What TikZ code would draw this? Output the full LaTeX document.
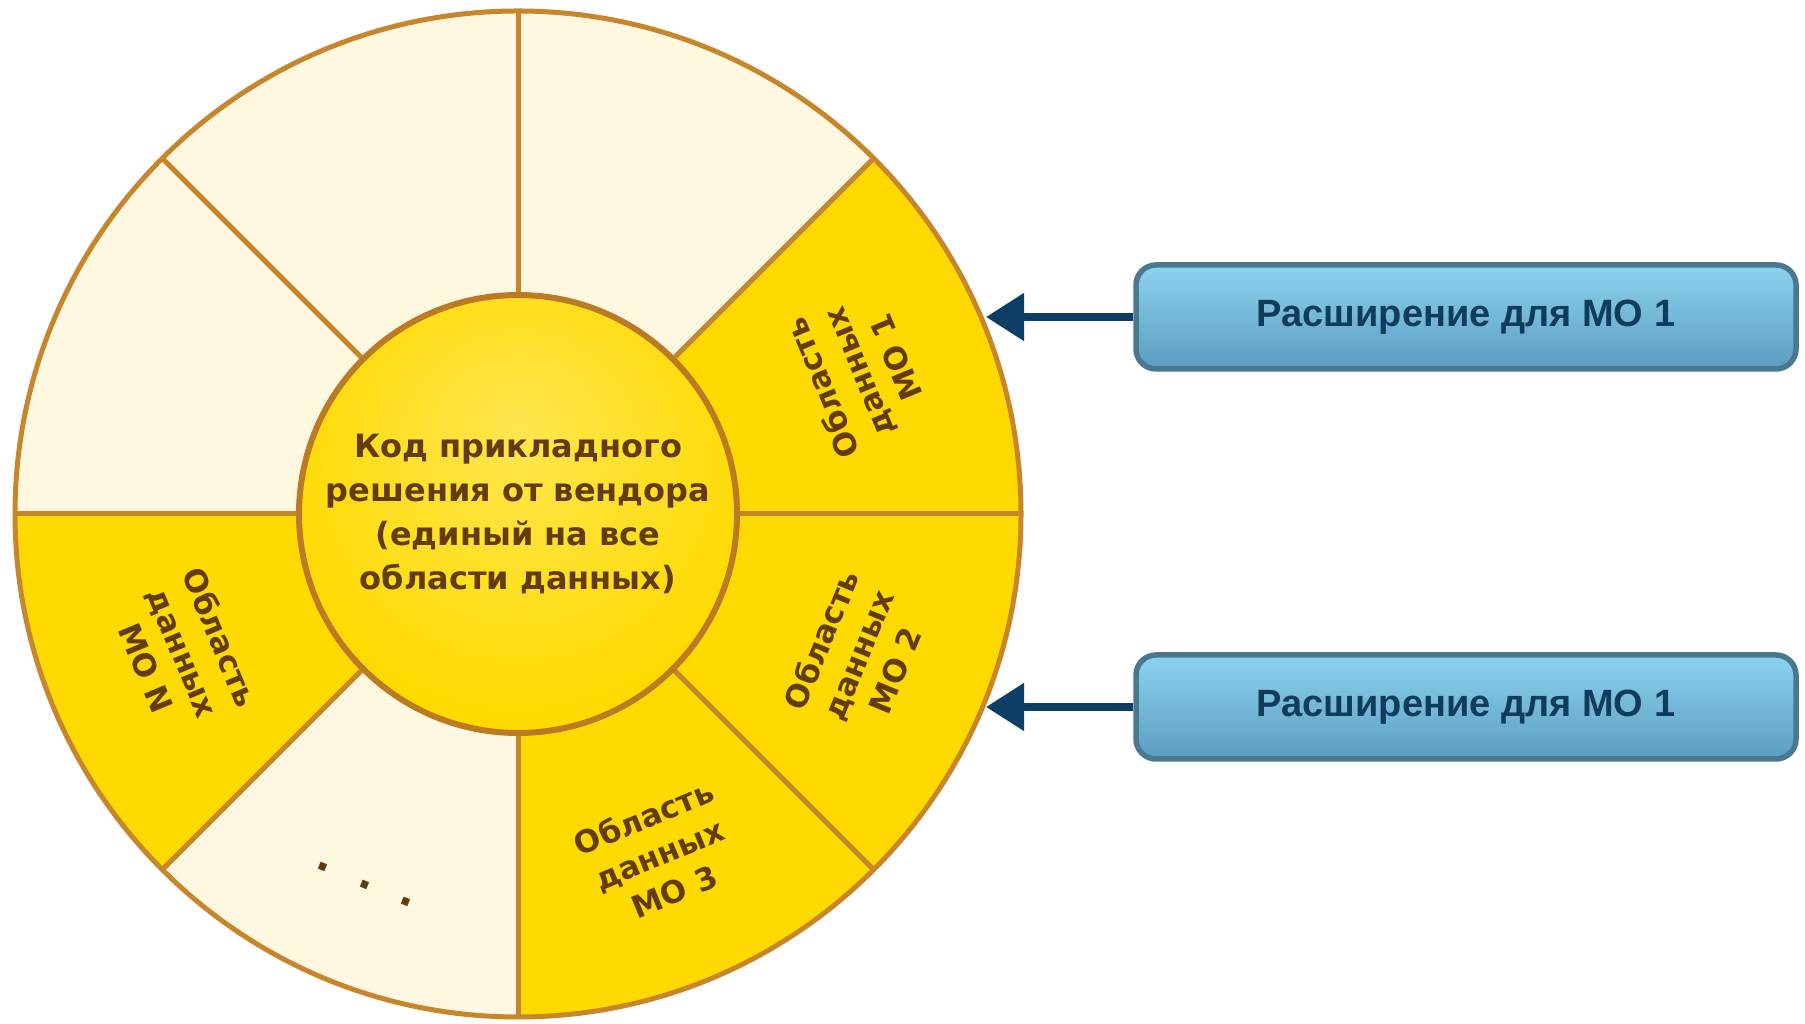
\documentclass[tikz,border=0pt]{standalone}
\usepackage{fontspec}
\newfontfamily\wheelfont{DejaVu Sans}
\newfontfamily\boxfont{Liberation Sans}
\usetikzlibrary{arrows.meta,calc}
\definecolor{goldA}{HTML}{FFDA00}
\definecolor{goldB}{HTML}{F3C200}
\definecolor{coreLight}{HTML}{FFE650}
\definecolor{cream}{HTML}{FEF8E0}
\definecolor{rim}{HTML}{C8862C}
\definecolor{coreRim}{HTML}{BC7A22}
\definecolor{brownText}{HTML}{643C0C}
\definecolor{boxTop}{HTML}{8DD2F0}
\definecolor{boxBot}{HTML}{5B9DBF}
\definecolor{boxRim}{HTML}{4A7890}
\definecolor{navy}{HTML}{0F3B5C}
\definecolor{arrowBlue}{HTML}{0D3F66}
\pgfdeclareradialshading{goldring}{\pgfpoint{0bp}{0bp}}{color(0bp)=(goldA); color(24bp)=(goldA); color(50bp)=(goldB)}
\pgfdeclareradialshading{coreshade}{\pgfpoint{0bp}{10bp}}{color(0bp)=(coreLight); color(28bp)=(goldA); color(50bp)=(goldB)}
\begin{document}
\begin{tikzpicture}[x=1pt,y=1pt,
  spoke/.style={draw=rim, line width=5pt},
  seclabel/.style={font=\wheelfont\bfseries\fontsize{31}{40}\selectfont, text=brownText, align=center, inner sep=0pt},
  extbox/.style={rounded corners=20pt, draw=boxRim, line width=5.5pt, top color=boxTop, bottom color=boxBot, minimum width=660pt, minimum height=104pt, font=\boxfont\bfseries\fontsize{38}{44}\selectfont, text=navy},
  arr/.style={draw=arrowBlue, line width=8pt, -{Triangle[length=38pt,width=46pt]}}
]
\useasboundingbox (0,0) rectangle (1805,1024);
\fill[white] (0,0) rectangle (1805,1024);
\coordinate (c) at (518,510);
% cream base
\fill[cream] (c) circle (503);
% gold sectors
\begin{scope}
\clip (c) -- ++(0:503) arc[start angle=0,end angle=45,radius=503] -- cycle
      (c) -- ++(180:503) arc[start angle=180,end angle=225,radius=503] -- cycle
      (c) -- ++(270:503) arc[start angle=270,end angle=360,radius=503] -- cycle;
\shade[shading=goldring] (c) circle (503);
\end{scope}
% spokes and rim
\foreach \a in {0,45,...,315} \draw[spoke] (c) -- ++(\a:503);
\draw[draw=rim, line width=5pt] (c) circle (503);
% core
\node[circle, minimum size=438pt, inner sep=0pt, draw=coreRim, line width=6pt, shade, shading=coreshade,
      align=center, font=\wheelfont\bfseries\fontsize{32}{44}\selectfont, text=brownText] (core) at (c)
  {Код прикладного\\решения от вендора\\(единый на все\\области данных)};
% sector labels
\node[seclabel, rotate=112.5] (mo1) at ($(c)+(22.5:368)$) {Область\\данных\\МО 1};
\node[seclabel, rotate=67.5] (mo2) at ($(c)+(-22.5:368)$) {Область\\данных\\МО 2};
\node[seclabel, rotate=22.5] (mo3) at ($(c)+(-67.5:368)$) {Область\\данных\\МО 3};
\node[seclabel, rotate=-67.5] (mon) at ($(c)+(202.5:362)$) {Область\\данных\\МО N};
\node[font=\wheelfont\bfseries\fontsize{40}{40}\selectfont, text=brownText, rotate=-22.5, anchor=base, inner sep=0pt] (dots)
  at ($(c)+(247.5:405)$) {.\hspace{30pt}.\hspace{30pt}.};
% extension boxes
\node[extbox] (b1) at (1466,707) {Расширение для МО 1};
\node[extbox] (b2) at (1466,317) {Расширение для МО 1};
\coordinate (t1) at (986,707);
\coordinate (t2) at (986,317);
\draw[arr] (b1.west) -- (t1);
\draw[arr] (b2.west) -- (t2);
\end{tikzpicture}
\end{document}
